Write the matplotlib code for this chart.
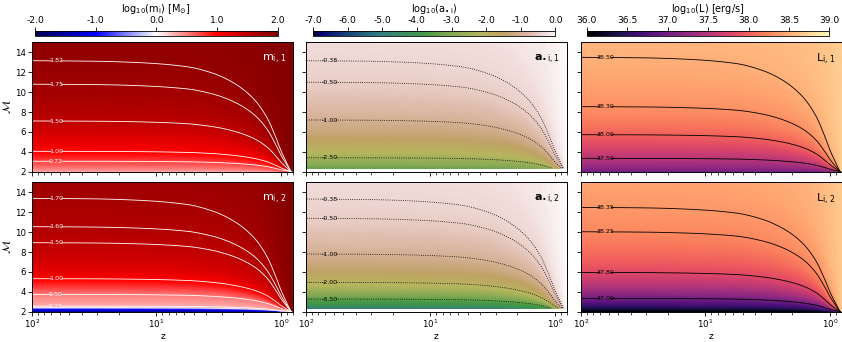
import numpy as np
import matplotlib
matplotlib.use("Agg")
import matplotlib.pyplot as plt
from matplotlib.ticker import LogLocator, NullFormatter, FixedLocator

# ---- shape of the iso-curves (relative height above M=2) vs redshift
shape_z = [0.83, 0.9, 1.0, 1.083, 1.30, 1.67, 2.4, 3.5, 5.7, 13.4, 30, 100]
shape_w = [0.0, 0.08, 0.19, 0.29, 0.49, 0.66, 0.80, 0.886, 0.946, 0.982, 0.995, 1.0]

m1_M = [2.0, 2.5, 3.05, 4.05, 5.5, 7.1, 9.0, 10.8, 13.16, 15.0, 20, 40, 200]
m1_v = [0.30, 0.55, 0.72, 1.00, 1.25, 1.50, 1.65, 1.75, 1.82, 1.86, 1.90, 1.94, 1.97]
m2_M = [2.0, 2.2, 2.35, 2.45, 2.55, 3.0, 3.74, 4.5, 5.32, 7.0, 8.94, 10.55, 13.4, 15, 20, 40, 200]
m2_v = [-1.6, -1.25, -0.7, -0.1, 0.25, 0.38, 0.50, 0.75, 1.00, 1.33, 1.50, 1.60, 1.70, 1.74, 1.80, 1.88, 1.95]
a1_M = [2.0, 2.35, 2.6, 3.4, 4.2, 5.2, 7.2, 9.0, 11.0, 13.16, 15, 20, 40, 200]
a1_v = [-3.8, -3.5, -3.0, -2.5, -2.0, -1.55, -1.00, -0.72, -0.50, -0.38, -0.32, -0.22, -0.12, -0.03]
a2_M = [2.0, 2.35, 2.6, 3.27, 4.0, 4.95, 6.2, 7.8, 9.5, 11.39, 13.33, 15, 20, 40, 200]
a2_v = [-5.5, -5.0, -4.3, -3.5, -2.7, -2.0, -1.45, -1.00, -0.72, -0.50, -0.38, -0.33, -0.22, -0.12, -0.03]
L1_M = [2.0, 2.5, 3.34, 4.5, 5.72, 7.0, 8.54, 10.5, 13.5, 15, 20, 40, 200]
L1_v = [37.0, 37.25, 37.50, 37.78, 38.00, 38.17, 38.30, 38.40, 38.50, 38.53, 38.58, 38.63, 38.68]
L2_M = [2.0, 2.3, 2.7, 3.34, 4.5, 5.95, 8.0, 10.04, 12.49, 15, 20, 40, 200]
L2_v = [36.0, 36.3, 36.65, 37.00, 37.45, 37.80, 38.08, 38.25, 38.35, 38.42, 38.50, 38.58, 38.65]

# contour levels
m1_levels = [0.72, 1.00, 1.50, 1.75, 1.82]
m2_levels = [0.25, 0.50, 1.00, 1.50, 1.60, 1.70]
a1_levels = [-2.50, -1.00, -0.50, -0.38]
a2_levels = [-3.50, -2.00, -1.00, -0.50, -0.38]
L1_levels = [37.50, 38.00, 38.30, 38.50]
L2_levels = [37.00, 37.80, 38.25, 38.35]

panel_labels = [[r"m$_{\rm i,\,1}$", r"$\mathbf{a}_{\bullet\,\mathrm{i,1}}$", r"L$_{\rm i,\,1}$"],
                [r"m$_{\rm i,\,2}$", r"$\mathbf{a}_{\bullet\,\mathrm{i,2}}$", r"L$_{\rm i,\,2}$"]]
cbar_labels = [r"log$_{10}$(m$_{\rm i}$) [M$_{\odot}$]", r"log$_{10}$(a$_{\bullet\,\rm i}$)",
               r"log$_{10}$(L) [erg/s]"]
cbar_ticks = [np.arange(-2, 2.01, 1.0), np.arange(-7, 0.01, 1.0), np.arange(36, 39.01, 0.5)]
cmaps = ["seismic", "gist_earth", "magma"]
vlims = [(-2, 2), (-7, 0), (36, 39)]


def pchip(x, y, xq):
    x = np.asarray(x, float)
    y = np.asarray(y, float)
    h = np.diff(x)
    delta = np.diff(y) / h
    n = len(x)
    d = np.zeros(n)
    for k in range(1, n - 1):
        if delta[k - 1] * delta[k] > 0:
            w1 = 2 * h[k] + h[k - 1]
            w2 = h[k] + 2 * h[k - 1]
            d[k] = (w1 + w2) / (w1 / delta[k - 1] + w2 / delta[k])
    d[0] = delta[0]
    d[-1] = delta[-1]
    xq = np.clip(xq, x[0], x[-1])
    idx = np.clip(np.searchsorted(x, xq) - 1, 0, n - 2)
    t = (xq - x[idx]) / h[idx]
    h00 = 2 * t**3 - 3 * t**2 + 1
    h10 = t**3 - 2 * t**2 + t
    h01 = -2 * t**3 + 3 * t**2
    h11 = t**3 - t**2
    return h00 * y[idx] + h10 * h[idx] * d[idx] + h01 * y[idx + 1] + h11 * h[idx] * d[idx + 1]


z_data_min, z_data_max = 0.815, 100.0
M_min, M_max = 2.0, 15.0

zg = np.logspace(np.log10(z_data_min), np.log10(z_data_max), 600)
Mg = np.linspace(M_min, M_max, 450)
Z, M = np.meshgrid(zg, Mg)
w = pchip(np.log10(shape_z), shape_w, np.log10(Z))
w = np.where(Z <= shape_z[0], 0.0, w)
U = 2.0 + (M - 2.0) / np.maximum(w, 1e-9)


def field(Mp, vp):
    return pchip(Mp, vp, U)


fields = [[field(m1_M, m1_v), field(a1_M, a1_v), field(L1_M, L1_v)],
          [field(m2_M, m2_v), field(a2_M, a2_v), field(L2_M, L2_v)]]
for r in range(2):
    fields[r][1] = np.ma.masked_where(M < 2.35, fields[r][1])
levels = [[m1_levels, a1_levels, L1_levels], [m2_levels, a2_levels, L2_levels]]
profiles = [[(m1_M, m1_v), (a1_M, a1_v), (L1_M, L1_v)], [(m2_M, m2_v), (a2_M, a2_v), (L2_M, L2_v)]]

fig = plt.figure(figsize=(8.42, 3.42), dpi=100)
xs = [0.038, 0.3634, 0.690]
wid = 0.310
ys = [0.498, 0.0886]
hei = 0.378
cb_x = [0.0416, 0.3717, 0.697]
cb_w = 0.288

line_style = [dict(colors="white", linewidths=0.6, linestyles="solid"),
              dict(colors="black", linewidths=0.6, linestyles="dotted"),
              dict(colors="black", linewidths=0.6, linestyles="solid")]
label_color = ["white", "black", "black"]
text_color = ["white", "black", "black"]

mappables = [None, None, None]
for r in range(2):
    for c in range(3):
        ax = fig.add_axes([xs[c], ys[r], wid, hei])
        vmin, vmax = vlims[c]
        pm = ax.pcolormesh(Z, M, fields[r][c], cmap=cmaps[c], vmin=vmin, vmax=vmax,
                           shading="gouraud", rasterized=True)
        mappables[c] = pm
        cs = ax.contour(Z, M, fields[r][c], levels=levels[r][c], **line_style[c])
        Mp, vp = profiles[r][c]
        manual = [(64.0, float(np.interp(lv, vp, Mp))) for lv in levels[r][c]]
        ax.clabel(cs, levels[r][c], inline=True, fontsize=4.6, fmt="%.2f",
                  colors=label_color[c], manual=manual, inline_spacing=8)
        ax.set_xscale("log")
        ax.set_xlim(100, 0.80)
        ax.set_ylim(M_min, M_max)
        ax.set_yticks([2, 4, 6, 8, 10, 12, 14])
        ax.xaxis.set_major_locator(FixedLocator([100, 10, 1]))
        ax.xaxis.set_minor_locator(LogLocator(base=10, subs=np.arange(2, 10)))
        ax.xaxis.set_minor_formatter(NullFormatter())
        ax.tick_params(labelsize=6.2, length=3, width=0.6, pad=1.5)
        ax.tick_params(which="minor", length=1.8, width=0.5)
        for s in ax.spines.values():
            s.set_linewidth(0.7)
        if r == 0:
            ax.set_xticklabels([])
        else:
            ax.set_xlabel("z", fontsize=6.5, labelpad=1)
        if c == 0:
            ax.set_ylabel(r"$\mathcal{M}$", fontsize=8, labelpad=1.5)
        else:
            ax.set_yticklabels([])
        ax.text(0.975, 0.87, panel_labels[r][c], transform=ax.transAxes, ha="right",
                va="center", fontsize=8, color=text_color[c])

for c in range(3):
    cax = fig.add_axes([cb_x[c], 0.895, cb_w, 0.013])
    cb = fig.colorbar(mappables[c], cax=cax, orientation="horizontal", ticks=cbar_ticks[c],
                      format="%.1f")
    cax.xaxis.set_ticks_position("top")
    cax.xaxis.set_label_position("top")
    cax.tick_params(labelsize=6.6, length=3, width=0.6, pad=1.5)
    cb.outline.set_linewidth(0.6)
    cb.set_label(cbar_labels[c], fontsize=7, labelpad=3)

fig.savefig("out.png", dpi=100)
